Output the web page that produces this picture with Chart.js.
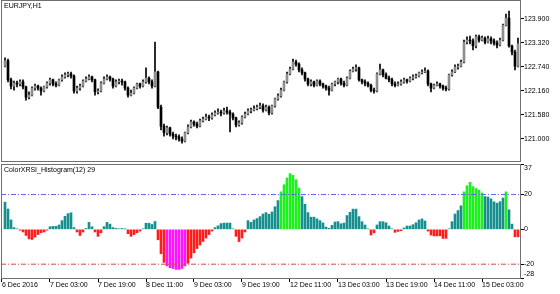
<!DOCTYPE html>
<html><head><meta charset="utf-8">
<script src="https://cdn.jsdelivr.net/npm/chart.js@4.4.1/dist/chart.umd.min.js"></script>
<style>
html,body{margin:0;padding:0;background:#fff;width:560px;height:294px;overflow:hidden}
canvas{position:absolute;left:0}
#c1{top:0}
#c2{top:163px}
</style></head><body>
<canvas id="c1" width="560" height="162"></canvas>
<canvas id="c2" width="560" height="131"></canvas>
<script>
const symbolTitle = 'EURJPY,H1';
const indicatorTitle = 'ColorXRSI_Histogram(12) 29';

const open = [
122.76,122.89,122.43,122.28,122.35,122.33,122.38,122.26,122.01,122.06,
122.23,122.28,122.23,122.16,122.26,122.35,122.43,122.33,122.30,122.43,
122.50,122.55,122.57,122.52,122.16,122.23,122.28,122.40,122.45,122.50,
122.43,122.14,122.16,122.35,122.45,122.50,122.45,122.28,122.38,122.40,
122.38,122.23,122.06,122.11,122.23,122.33,122.28,122.38,122.47,122.38,
122.28,122.62,121.77,121.31,121.15,121.27,121.12,121.07,121.05,121.00,
120.95,121.15,121.29,121.41,121.36,121.31,121.44,121.48,121.53,121.51,
121.58,121.63,121.65,121.63,121.68,121.65,121.60,121.51,121.34,121.39,
121.53,121.60,121.68,121.70,121.73,121.77,121.80,121.70,121.77,121.63,
121.80,121.97,122.04,122.18,122.38,122.57,122.69,122.86,122.81,122.67,
122.60,122.45,122.33,122.38,122.30,122.40,122.33,122.28,122.23,122.18,
122.33,122.38,122.45,122.35,122.30,122.47,122.64,122.69,122.72,122.43,
122.38,122.35,122.30,122.18,122.16,122.57,122.67,122.55,122.47,122.43,
122.33,122.30,122.33,122.38,122.43,122.40,122.47,122.50,122.52,122.60,
122.62,122.64,122.33,122.23,122.30,122.33,122.28,122.23,122.21,122.55,
122.62,122.74,122.76,122.86,123.34,123.39,123.37,123.25,123.47,123.39,
123.44,123.34,123.42,123.37,123.32,123.27,123.39,123.75,123.92,123.25,
123.10,122.76];
const high = [
122.96,122.93,122.47,122.40,122.40,122.43,122.43,122.28,122.14,122.26,
122.33,122.30,122.26,122.28,122.38,122.47,122.45,122.38,122.45,122.55,
122.60,122.62,122.62,122.55,122.28,122.33,122.43,122.50,122.55,122.52,
122.45,122.21,122.38,122.50,122.55,122.52,122.47,122.43,122.45,122.45,
122.40,122.26,122.18,122.26,122.35,122.35,122.43,122.72,122.50,122.43,
123.34,122.64,121.82,121.36,121.31,121.29,121.17,121.12,121.10,121.05,
121.17,121.34,121.46,121.44,121.41,121.48,121.53,121.60,121.58,121.63,
121.68,121.73,121.70,121.75,121.77,121.70,121.63,121.53,121.44,121.56,
121.65,121.73,121.75,121.80,121.82,121.87,121.85,121.82,121.80,121.82,
121.99,122.09,122.23,122.40,122.62,122.74,122.93,122.91,122.84,122.72,
122.62,122.47,122.43,122.40,122.43,122.43,122.35,122.30,122.28,122.35,
122.40,122.47,122.47,122.40,122.50,122.67,122.74,122.79,122.74,122.45,
122.43,122.38,122.33,122.23,122.60,122.81,122.69,122.60,122.52,122.47,
122.38,122.38,122.43,122.47,122.45,122.50,122.55,122.57,122.62,122.67,
122.72,122.67,122.35,122.33,122.38,122.35,122.30,122.28,122.57,122.67,
122.79,122.81,122.91,123.39,123.47,123.49,123.42,123.51,123.51,123.49,
123.47,123.49,123.47,123.42,123.37,123.44,123.78,124.02,124.09,123.27,
123.15,123.44];
const low = [
122.74,122.38,122.21,122.18,122.26,122.28,122.21,121.94,121.97,122.04,
122.18,122.18,122.06,122.14,122.23,122.30,122.28,122.26,122.28,122.40,
122.47,122.50,122.47,122.11,122.11,122.18,122.26,122.38,122.43,122.38,
122.06,122.09,122.14,122.33,122.43,122.40,122.23,122.26,122.33,122.30,
122.18,122.01,122.04,122.09,122.21,122.23,122.26,122.35,122.33,122.23,
122.26,121.73,121.22,121.07,121.10,121.07,121.00,120.98,120.95,120.90,
120.93,121.12,121.27,121.31,121.27,121.29,121.41,121.46,121.44,121.48,
121.56,121.60,121.56,121.60,121.60,121.17,121.46,121.29,121.31,121.36,
121.51,121.58,121.63,121.68,121.70,121.73,121.65,121.68,121.58,121.60,
121.77,121.94,122.01,122.16,122.35,122.55,122.67,122.76,122.62,122.55,
122.40,122.28,122.28,122.26,122.28,122.28,122.23,122.18,122.06,122.16,
122.28,122.33,122.30,122.26,122.28,122.45,122.62,122.64,122.40,122.33,
122.28,122.26,122.14,122.11,122.14,122.55,122.50,122.45,122.38,122.28,
122.26,122.28,122.30,122.35,122.35,122.38,122.43,122.47,122.50,122.57,
122.60,122.28,122.14,122.21,122.28,122.23,122.18,122.16,122.18,122.52,
122.60,122.69,122.74,122.84,123.30,123.30,123.15,123.20,123.34,123.37,
123.30,123.32,123.30,123.27,123.20,123.25,123.37,123.73,123.22,123.03,
122.67,122.74];
const close = [
122.89,122.43,122.28,122.35,122.33,122.38,122.26,122.01,122.06,122.23,
122.28,122.23,122.16,122.26,122.35,122.43,122.33,122.30,122.43,122.50,
122.55,122.57,122.52,122.16,122.23,122.28,122.40,122.45,122.50,122.43,
122.14,122.16,122.35,122.45,122.50,122.45,122.28,122.38,122.40,122.38,
122.23,122.06,122.11,122.23,122.33,122.28,122.38,122.47,122.38,122.28,
122.62,121.77,121.31,121.15,121.27,121.12,121.07,121.05,121.00,120.95,
121.15,121.29,121.41,121.36,121.31,121.44,121.48,121.53,121.51,121.58,
121.63,121.65,121.63,121.68,121.65,121.60,121.51,121.34,121.39,121.53,
121.60,121.68,121.70,121.73,121.77,121.80,121.70,121.77,121.63,121.80,
121.97,122.04,122.18,122.38,122.57,122.69,122.86,122.81,122.67,122.60,
122.45,122.33,122.38,122.30,122.40,122.33,122.28,122.23,122.18,122.33,
122.38,122.45,122.35,122.30,122.47,122.64,122.69,122.72,122.43,122.38,
122.35,122.30,122.18,122.16,122.57,122.67,122.55,122.47,122.43,122.33,
122.30,122.33,122.38,122.43,122.40,122.47,122.50,122.52,122.60,122.62,
122.64,122.33,122.23,122.30,122.33,122.28,122.23,122.21,122.55,122.62,
122.74,122.76,122.86,123.34,123.39,123.37,123.25,123.47,123.39,123.44,
123.34,123.42,123.37,123.32,123.27,123.39,123.75,123.92,123.25,123.10,
122.76,123.30];
const xrsi = [
15.6,11.7,5.4,1,0.3,-0.5,-1.5,-3.5,-5.5,-5.8,
-4.5,-3,-2,-1.5,-0.5,1.5,1.7,1.7,2.5,5,
7.5,9,9.5,1,-1.5,-3.5,-1.5,0.5,4,1.5,
-1.5,-4,-2,1.5,4,3,1,0.5,0.3,0.5,
0.2,-2.5,-4,-3,-2,-1,0.3,3.5,3.5,2.8,
4.5,-6,-14,-19,-21,-22,-22.5,-23,-23,-22.5,
-21,-19.5,-16.5,-13.5,-11,-9,-7,-5,-3,-1,
1,2,3.3,3.6,3.6,3.6,0.3,-4,-7,-5,
-1.5,5,4,5.4,6.2,7.3,8.8,9.6,8.7,10,
13,16.5,21.5,25.6,29.5,32,31,28.5,23.7,18.8,
14.4,9.6,7,7,6,5,3.7,1.3,0.6,2.3,
4.2,4.4,3.2,3.6,7.9,9.8,11.6,11.6,7.3,4.4,
2.5,0.3,-3.3,-2,2.5,4.4,4.4,3.8,1.9,0.3,
-1.7,-1.2,-0.8,0.8,1.9,1.9,2.7,3.8,5.4,6,
4.8,-1,-3.3,-3.8,-3.8,-3.7,-5.2,-5.2,0.3,4.4,
8.8,10.8,13.5,21.5,25,27,24.5,23.4,22.5,20.9,
18.8,18.6,17.5,15.8,15,15.9,18,21.5,11.2,3,
-4.3,-4.3];

const priceTicks = [123.900, 123.320, 122.740, 122.160, 121.580, 121.000];
const oscTicks = [37, 20, 0, -20, -28];
const levels = [20, -20];
const timeTickPos = [-1, 15, 31, 47, 63, 79, 95, 111, 127, 143, 159];
const timeTickLabels = ['6 Dec 2016','7 Dec 03:00','7 Dec 19:00','8 Dec 11:00','9 Dec 03:00',
  '9 Dec 19:00','12 Dec 11:00','13 Dec 03:00','13 Dec 19:00','14 Dec 11:00','15 Dec 03:00'];

const X_MIN = -4/3, X_MAX = 172;
const FONT = {family: "'Liberation Sans', Arial, sans-serif", size: 7, lineHeight: 1.2};
const FONT_CSS = "7px 'Liberation Sans', Arial, sans-serif";
const BULL = '#8e8e8e', BEAR = '#000000';
const TEAL = '#178f8f', LIME = '#1ef01e', RED = '#ff1c1c', MAGENTA = '#ff14ff';

const idx = close.map((_, i) => i);
const wickData = idx.map(i => ({x: i, y: [low[i], high[i]]}));
const bodyData = idx.map(i => ({x: i, y: [open[i], close[i]]}));
const oscData = idx.map(i => ({x: i, y: xrsi[i]}));
const oscColor = v => v > 20 ? LIME : v >= 0 ? TEAL : v >= -20 ? RED : MAGENTA;

const framePlugin = {
  id: 'frame',
  afterDraw(chart, args, opts) {
    const {ctx, chartArea: a} = chart;
    ctx.save();
    ctx.strokeStyle = '#707070';
    ctx.lineWidth = 1;
    ctx.strokeRect(a.left + 0.5, a.top + 0.5, a.right - a.left - 1, a.bottom - a.top - 1);
    ctx.fillStyle = '#000';
    ctx.font = FONT_CSS;
    ctx.textBaseline = 'middle';
    ctx.textAlign = 'left';
    ctx.fillText(opts.title, a.left + 3, a.top + 6.5);
    (opts.edgeTicks || []).forEach(v => {
      const s = chart.scales.y;
      let y = s.getPixelForValue(v);
      y = Math.min(Math.max(y, a.top + 4.3), a.bottom - 5);
      ctx.fillText(String(v), a.right + 3, y);
    });
    ctx.restore();
  }
};

const baseOpts = {
  responsive: false, animation: false, devicePixelRatio: 1,
  datasets: {bar: {grouped: false, barPercentage: 1, categoryPercentage: 1, borderWidth: 0}},
};

new Chart(document.getElementById('c1'), {
  type: 'bar',
  data: {datasets: [
    {data: bodyData, order: 0, maxBarThickness: 2,
     backgroundColor: c => close[c.dataIndex] >= open[c.dataIndex] ? BULL : BEAR},
    {data: wickData, order: 1, maxBarThickness: 1, backgroundColor: '#000'}
  ]},
  options: Object.assign({}, baseOpts, {
    layout: {padding: {left: 1, top: 0, right: 0, bottom: 0}, autoPadding: false},
    plugins: {legend: {display: false}, tooltip: {enabled: false}, frame: {title: symbolTitle}},
    scales: {
      x: {type: 'linear', min: X_MIN, max: X_MAX, offset: false, display: false},
      y: {type: 'linear', position: 'right', min: 120.444, max: 124.359,
        afterBuildTicks: s => { s.ticks = priceTicks.map(v => ({value: v})); },
        afterFit: s => { s.width = 39; s.paddingTop = 0; s.paddingBottom = 0; },
        grid: {drawOnChartArea: false, drawTicks: true, tickLength: 3, color: '#000'},
        border: {display: false},
        ticks: {padding: 0, color: '#000', font: FONT, callback: v => Number(v).toFixed(3)}}
    }
  }),
  plugins: [framePlugin]
});

new Chart(document.getElementById('c2'), {
  type: 'bar',
  data: {datasets: [
    {type: 'line', data: [{x: X_MIN, y: levels[0]}, {x: X_MAX, y: levels[0]}], order: -2,
     borderColor: '#6464ff', borderWidth: 1, borderDash: [5, 2, 1, 2], pointRadius: 0},
    {type: 'line', data: [{x: X_MIN, y: levels[1]}, {x: X_MAX, y: levels[1]}], order: -1,
     borderColor: '#c84c4c', borderWidth: 1, borderDash: [5, 2, 1, 2], pointRadius: 0},
    {type: 'bar', data: oscData, order: 0, maxBarThickness: 2,
     backgroundColor: c => oscColor(xrsi[c.dataIndex])}
  ]},
  options: Object.assign({}, baseOpts, {
    layout: {padding: {left: 1, top: 1, right: 0, bottom: 0}, autoPadding: false},
    plugins: {legend: {display: false}, tooltip: {enabled: false},
      frame: {title: indicatorTitle, edgeTicks: [oscTicks[0], oscTicks[oscTicks.length - 1]]}},
    scales: {
      x: {type: 'linear', position: 'bottom', min: X_MIN, max: X_MAX, offset: false,
        afterBuildTicks: s => { s.ticks = timeTickPos.map(v => ({value: v})); },
        afterFit: s => { s.height = 15; s.paddingLeft = 0; s.paddingRight = 0; },
        grid: {drawOnChartArea: false, drawTicks: true, tickLength: 3, color: '#000', offset: false},
        border: {display: false},
        ticks: {autoSkip: false, maxRotation: 0, minRotation: 0, align: 'start', padding: -1,
          color: '#000', font: FONT, callback: (v, i) => timeTickLabels[i]}},
      y: {type: 'linear', position: 'right', min: -28.5, max: 37.5,
        afterBuildTicks: s => { s.ticks = oscTicks.map(v => ({value: v})); },
        afterFit: s => { s.width = 39; s.paddingTop = 0; s.paddingBottom = 0; },
        grid: {drawOnChartArea: false, drawTicks: true, tickLength: 3, color: '#000'},
        border: {display: false},
        ticks: {padding: 0, color: '#000', font: FONT,
          callback: v => (v === oscTicks[0] || v === oscTicks[oscTicks.length - 1]) ? '' : String(v)}}
    }
  }),
  plugins: [framePlugin]
});
</script>
</body></html>
